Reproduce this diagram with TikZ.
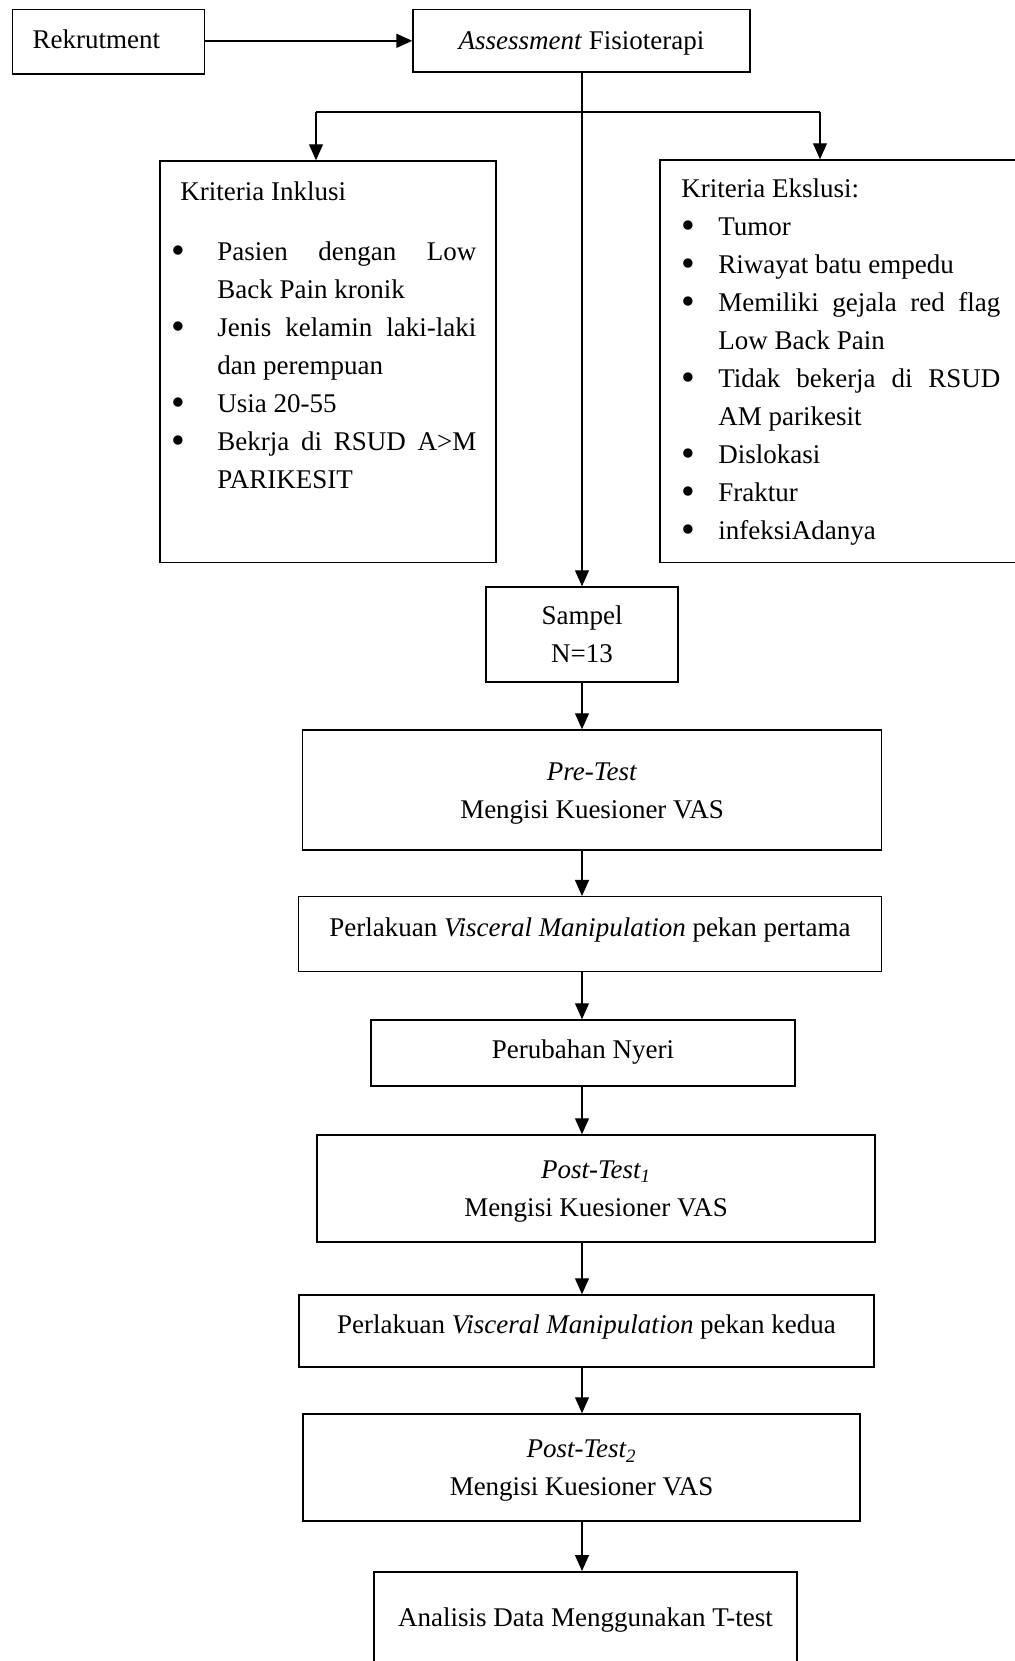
\documentclass[tikz,border=0pt]{standalone}
\usepackage{fontspec}
\setmainfont{Liberation Serif}
\usetikzlibrary{arrows.meta}
\newcommand{\butir}[2]{\par\noindent\hangindent=#1\hangafter=1\makebox[#1][l]{\raisebox{-1.6pt}{\scalebox{1.45}{\textbullet}}}#2\par}

\begin{document}
\begin{tikzpicture}[x=0.5pt, y=-0.5pt,
    every node/.style={font=\fontsize{13.5}{19}\selectfont},
    kotak/.style={draw, line width=0.75pt, inner sep=0pt, align=center},
    daftar/.style={anchor=north west, inner sep=0pt, align=justify},
    panah/.style={-{Triangle[length=8pt, width=7pt]}, line width=0.6pt}]
    \useasboundingbox (0,0) rectangle (1015,1661);
    \node[kotak, minimum width=95.9pt, minimum height=32.3pt, text width=75.9pt, align=left, text depth=2.6pt] (rekrut) at (108.6,41.9) {Rekrutment};
    \node[kotak, minimum width=168.5pt, minimum height=31.3pt, text depth=0pt] (asesmen) at (581.5,40.8) {\textit{Assessment} Fisioterapi};
    \node[kotak, minimum width=168pt, minimum height=200.8pt] (inklusi) at (328,361.8) {};
    \node[kotak, minimum width=185pt, minimum height=201.3pt] (eksklusi) at (845,361.3) {};
    \node[daftar, text width=152.5pt] (isiinklusi) at (171,181) {%
        \hyphenpenalty=10000\exhyphenpenalty=10000
        \hspace*{4.5pt}Kriteria Inklusi\par\vspace{11pt}
        \butir{23pt}{Pasien dengan Low\linebreak Back Pain kronik}
        \butir{23pt}{Jenis kelamin laki-laki\linebreak dan perempuan}
        \butir{23pt}{Usia 20-55}
        \butir{23pt}{Bekrja di RSUD A>M\linebreak PARIKESIT}};
    \node[daftar, text width=159.5pt] (isieksklusi) at (681,178) {%
        \hyphenpenalty=10000\exhyphenpenalty=10000
        Kriteria Ekslusi:
        \butir{18.5pt}{Tumor}
        \butir{18.5pt}{Riwayat batu empedu}
        \butir{18.5pt}{Memiliki gejala red flag\linebreak Low Back Pain}
        \butir{18.5pt}{Tidak bekerja di RSUD\linebreak AM parikesit}
        \butir{18.5pt}{Dislokasi}
        \butir{18.5pt}{Fraktur}
        \butir{18.5pt}{infeksiAdanya}};
    \node[kotak, minimum width=96pt, minimum height=47.5pt] (sampel) at (582,634.5) {Sampel\\N=13};
    \node[kotak, minimum width=289.3pt, minimum height=60pt, text height=31.4pt] (pretest) at (592,790) {\textit{Pre-Test}\\Mengisi Kuesioner VAS};
    \node[kotak, minimum width=291.3pt, minimum height=37.3pt, text depth=7.1pt] (perlakuan1) at (590,934) {Perlakuan \textit{Visceral Manipulation} pekan pertama};
    \node[kotak, minimum width=212pt, minimum height=33pt, text depth=4pt] (nyeri) at (583,1053) {Perubahan Nyeri};
    \node[kotak, minimum width=279pt, minimum height=53.5pt, text height=30.6pt] (posttest1) at (596,1188.5) {\textit{Post-Test\textsubscript{1}}\\Mengisi Kuesioner VAS};
    \node[kotak, minimum width=287.5pt, minimum height=36pt, text depth=7.1pt] (perlakuan2) at (586.5,1331) {Perlakuan \textit{Visceral Manipulation} pekan kedua};
    \node[kotak, minimum width=278.5pt, minimum height=53.5pt, text height=31.2pt] (posttest2) at (581.5,1467.5) {\textit{Post-Test\textsubscript{2}}\\Mengisi Kuesioner VAS};
    \node[kotak, anchor=north, minimum width=211.5pt, minimum height=48pt] (analisis) at (585.5,1571) {Analisis Data Menggunakan T-test};

    \coordinate (poros) at (582,0);
    \coordinate (kiri) at (316,112);
    \coordinate (kanan) at (820,112);
    \draw[panah, line width=0.9pt] (rekrut.east |- asesmen.west) -- (asesmen.west);
    \draw[panah] (asesmen.south -| poros) -- (sampel.north);
    \draw[line width=0.6pt] (kiri) -- (kanan);
    \draw[panah] (kiri) -- (kiri |- inklusi.north);
    \draw[panah] (kanan) -- (kanan |- eksklusi.north);
    \draw[panah] (sampel.south) -- (sampel.south |- pretest.north);
    \draw[panah] (pretest.south -| poros) -- (perlakuan1.north -| poros);
    \draw[panah] (perlakuan1.south -| poros) -- (nyeri.north -| poros);
    \draw[panah] (nyeri.south -| poros) -- (posttest1.north -| poros);
    \draw[panah] (posttest1.south -| poros) -- (perlakuan2.north -| poros);
    \draw[panah] (perlakuan2.south -| poros) -- (posttest2.north -| poros);
    \draw[panah] (posttest2.south -| poros) -- (analisis.north -| poros);
\end{tikzpicture}
\end{document}
